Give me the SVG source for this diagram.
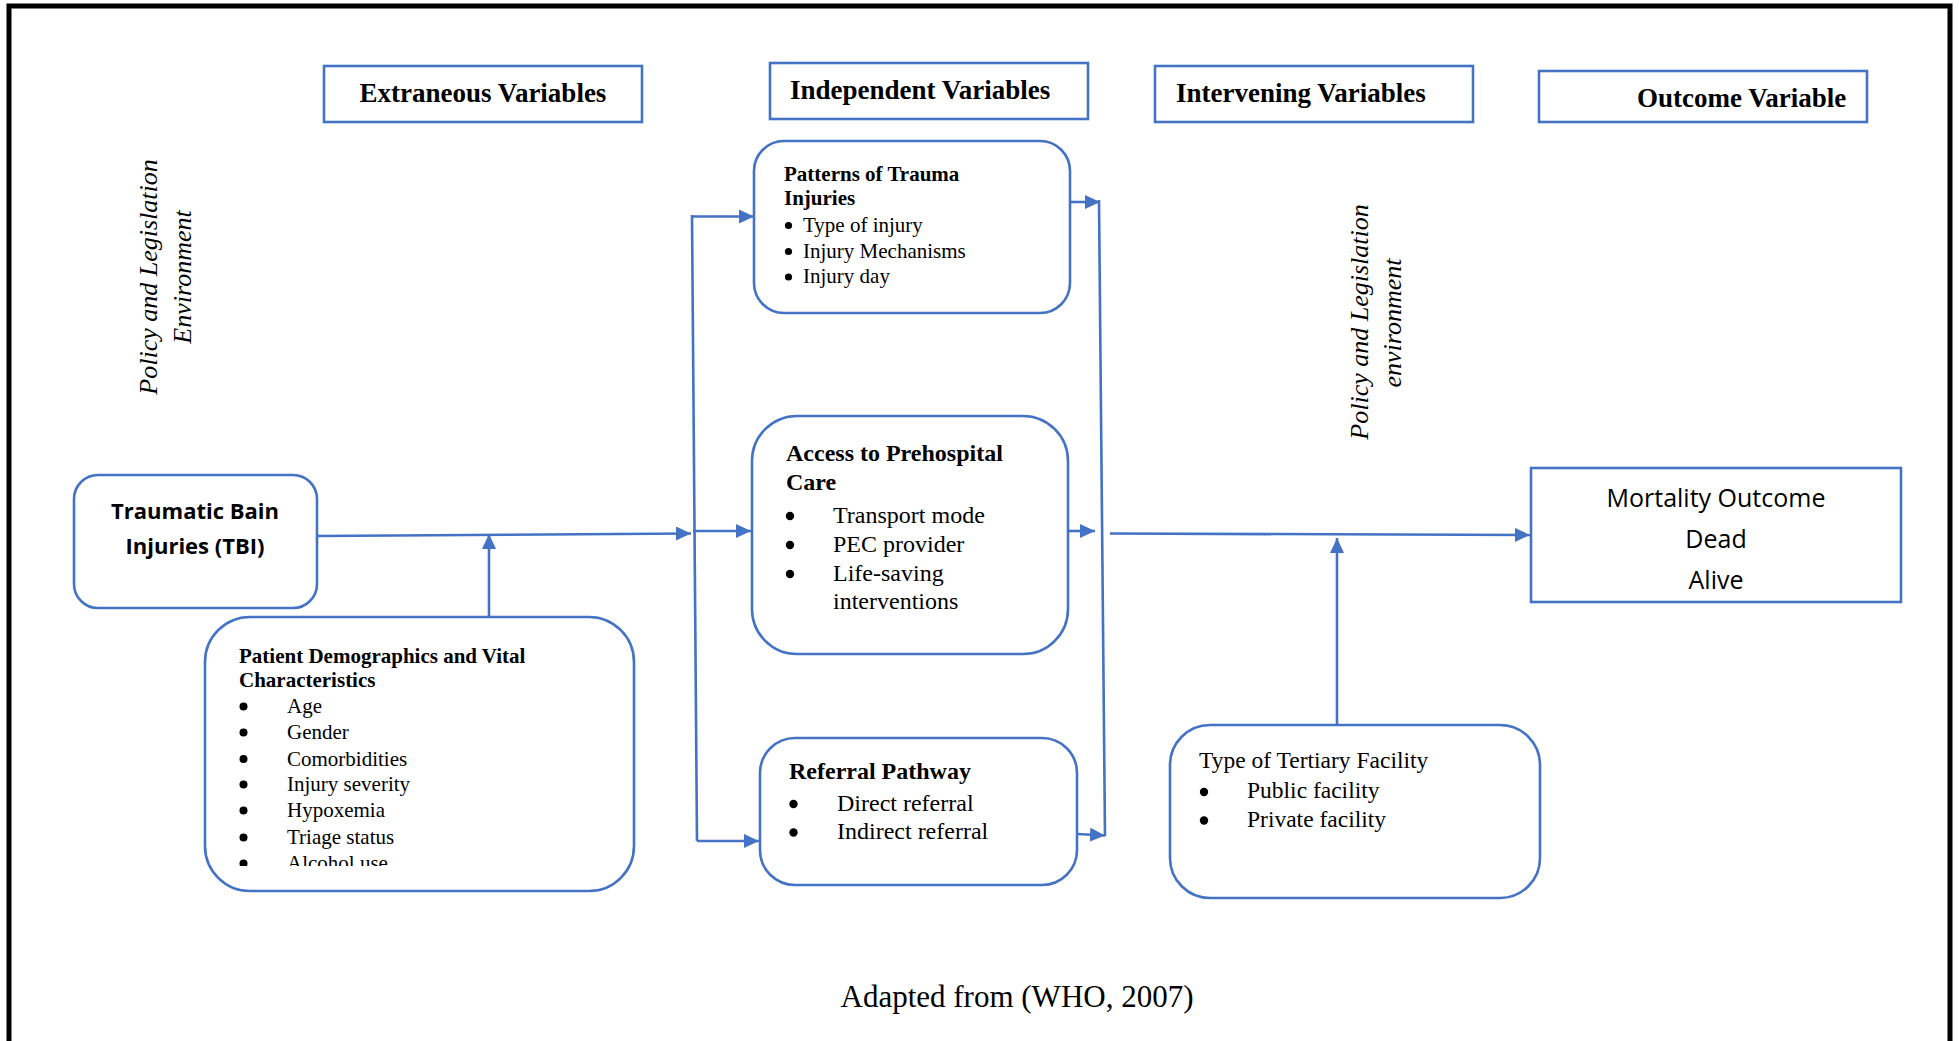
<svg xmlns="http://www.w3.org/2000/svg" width="1959" height="1041" viewBox="0 0 1959 1041">
<style>
.box{fill:#fff;stroke:#4472C4;stroke-width:2.6}
.con{fill:none;stroke:#4472C4;stroke-width:2.6}
.hdr{font-family:"Liberation Serif","Times New Roman",serif;font-weight:bold;font-size:27px;fill:#000}
.tb{font-family:"Liberation Serif","Times New Roman",serif;font-weight:bold;fill:#000}
.tr{font-family:"Liberation Serif","Times New Roman",serif;fill:#000}
.ti{font-family:"Liberation Serif","Times New Roman",serif;font-style:italic;font-size:26px;fill:#000}
.sans{font-family:"Open Sans","Liberation Sans",sans-serif;fill:#000}
.bul{fill:#000}
</style>
<defs>
<marker id="arr" markerUnits="userSpaceOnUse" markerWidth="16" markerHeight="16" refX="15" refY="7" orient="auto">
<path d="M0,0 L15,7 L0,14 z" fill="#4472C4"/>
</marker>
<clipPath id="clipPat"><rect x="200" y="620" width="440" height="246"/></clipPath>
</defs>
<rect width="1959" height="1041" fill="#fff"/>
<path d="M9,1045 V6 H1950 V1045" fill="none" stroke="#000" stroke-width="5"/>

<g id="hdr-extraneous">
<rect class="box" x="324" y="66" width="318" height="56"/>
<text class="hdr" x="483" y="102" text-anchor="middle">Extraneous Variables</text>
</g>
<g id="hdr-independent">
<rect class="box" x="770" y="63" width="318" height="56"/>
<text class="hdr" x="790" y="99">Independent Variables</text>
</g>
<g id="hdr-intervening">
<rect class="box" x="1155" y="66" width="318" height="56"/>
<text class="hdr" x="1176" y="102">Intervening Variables</text>
</g>
<g id="hdr-outcome">
<rect class="box" x="1539" y="71" width="328" height="51"/>
<text class="hdr" x="1637" y="107">Outcome Variable</text>
</g>

<g id="policy-left">
<text class="ti" transform="translate(157,277) rotate(-90)" text-anchor="middle">Policy and Legislation</text>
<text class="ti" transform="translate(191,277) rotate(-90)" text-anchor="middle">Environment</text>
</g>
<g id="policy-right">
<text class="ti" transform="translate(1368,322) rotate(-90)" text-anchor="middle">Policy and Legislation</text>
<text class="ti" transform="translate(1401,323) rotate(-90)" text-anchor="middle">environment</text>
</g>

<g id="connectors">
<path class="con" d="M317,536 L691,533.5" marker-end="url(#arr)"/>
<path class="con" d="M489,617 L489,534" marker-end="url(#arr)"/>
<path class="con" d="M692,215 L697,841"/>
<path class="con" d="M692,216.5 L754,216.5" marker-end="url(#arr)"/>
<path class="con" d="M693,531 L751,531" marker-end="url(#arr)"/>
<path class="con" d="M697,841 L759,841" marker-end="url(#arr)"/>
<path class="con" d="M1070,202 L1100,202" marker-end="url(#arr)"/>
<path class="con" d="M1099,200 L1105,836"/>
<path class="con" d="M1067,531 L1095,531" marker-end="url(#arr)"/>
<path class="con" d="M1077,834 L1105,835.5" marker-end="url(#arr)"/>
<path class="con" d="M1110,533.5 L1530,535" marker-end="url(#arr)"/>
<path class="con" d="M1337,725 L1337,538" marker-end="url(#arr)"/>
</g>

<g id="node-tbi">
<rect class="box" x="74" y="475" width="243" height="133" rx="24"/>
<text class="sans" font-size="22" font-weight="bold" x="195" y="519" text-anchor="middle">Traumatic Bain</text>
<text class="sans" font-size="22" font-weight="bold" x="195" y="554" text-anchor="middle">Injuries (TBI)</text>
</g>

<g id="node-patient">
<rect class="box" x="205" y="617" width="429" height="274" rx="45"/>
<g clip-path="url(#clipPat)">
<text class="tb" font-size="21" x="239" y="663">Patient Demographics and Vital</text>
<text class="tb" font-size="21" x="239" y="687">Characteristics</text>
<g class="tr" font-size="21">
<circle class="bul" cx="243.5" cy="706.5" r="4"/><text x="287" y="713">Age</text>
<circle class="bul" cx="243.5" cy="732.5" r="4"/><text x="287" y="739">Gender</text>
<circle class="bul" cx="243.5" cy="759" r="4"/><text x="287" y="766">Comorbidities</text>
<circle class="bul" cx="243.5" cy="784.5" r="4"/><text x="287" y="791">Injury severity</text>
<circle class="bul" cx="243.5" cy="810.5" r="4"/><text x="287" y="817">Hypoxemia</text>
<circle class="bul" cx="243.5" cy="837.5" r="4"/><text x="287" y="844">Triage status</text>
<circle class="bul" cx="243.5" cy="863.5" r="4"/><text x="287" y="870">Alcohol use</text>
</g>
</g>
</g>

<g id="node-patterns">
<rect class="box" x="754" y="141" width="316" height="172" rx="30"/>
<text class="tb" font-size="21" x="784" y="181">Patterns of Trauma</text>
<text class="tb" font-size="21" x="784" y="205">Injuries</text>
<g class="tr" font-size="21">
<circle class="bul" cx="788.5" cy="225.5" r="3.6"/><text x="803" y="232">Type of injury</text>
<circle class="bul" cx="788.5" cy="251.5" r="3.6"/><text x="803" y="258">Injury Mechanisms</text>
<circle class="bul" cx="788.5" cy="277" r="3.6"/><text x="803" y="283">Injury day</text>
</g>
</g>

<g id="node-access">
<rect class="box" x="752" y="416" width="316" height="238" rx="45"/>
<text class="tb" font-size="24" x="786" y="461">Access to Prehospital</text>
<text class="tb" font-size="24" x="786" y="490">Care</text>
<g class="tr" font-size="24">
<circle class="bul" cx="790" cy="516" r="4.2"/><text x="833" y="523">Transport mode</text>
<circle class="bul" cx="790" cy="545" r="4.2"/><text x="833" y="552">PEC provider</text>
<circle class="bul" cx="790" cy="574" r="4.2"/><text x="833" y="581">Life-saving</text>
<text x="833" y="609">interventions</text>
</g>
</g>

<g id="node-referral">
<rect class="box" x="760" y="738" width="317" height="147" rx="35"/>
<text class="tb" font-size="24" x="789" y="779">Referral Pathway</text>
<g class="tr" font-size="24">
<circle class="bul" cx="793.5" cy="804" r="4.2"/><text x="837" y="811">Direct referral</text>
<circle class="bul" cx="793.5" cy="832.5" r="4.2"/><text x="837" y="839">Indirect referral</text>
</g>
</g>

<g id="node-mortality">
<rect class="box" x="1531" y="468" width="370" height="134"/>
<text class="sans" font-size="25" x="1716" y="507" text-anchor="middle">Mortality Outcome</text>
<text class="sans" font-size="25" x="1716" y="548" text-anchor="middle">Dead</text>
<text class="sans" font-size="25" x="1716" y="589" text-anchor="middle">Alive</text>
</g>

<g id="node-tertiary">
<rect class="box" x="1170" y="725" width="370" height="173" rx="40"/>
<g class="tr" font-size="23.5">
<text x="1199" y="768">Type of Tertiary Facility</text>
<circle class="bul" cx="1204" cy="792" r="4.2"/><text x="1247" y="798">Public facility</text>
<circle class="bul" cx="1204" cy="820.5" r="4.2"/><text x="1247" y="827">Private facility</text>
</g>
</g>

<text class="tr" font-size="31" x="1017" y="1007" text-anchor="middle">Adapted from (WHO, 2007)</text>
</svg>
